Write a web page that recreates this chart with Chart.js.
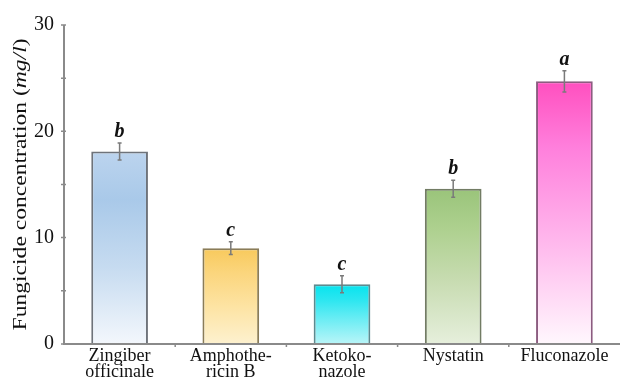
<!DOCTYPE html>
<html>
<head>
<meta charset="utf-8">
<script src="https://cdn.jsdelivr.net/npm/chart.js@4/dist/chart.umd.min.js"></script>
<style>
  html, body { margin: 0; padding: 0; background: #fff; }
  #wrap { width: 625px; height: 385px; position: relative; }
</style>
</head>
<body>
<div id="wrap"><canvas id="c" width="625" height="385"></canvas></div>
<script>
// Fungicide concentration per treatment, with standard errors and significance letters
const categories = [
  ['Zingiber', 'officinale'],
  ['Amphothe-', 'ricin B'],
  ['Ketoko-', 'nazole'],
  ['Nystatin'],
  ['Fluconazole']
];
const concentration = [18.1, 9.0, 5.6, 14.6, 24.7];
const errors = [0.8, 0.6, 0.8, 0.8, 1.0];
const groupLetters = ['b', 'c', 'c', 'b', 'a'];
const yTicks = [0, 10, 20, 30];

// Vertical colour ramps for each bar, listed from base to top
const ramps = [
  ['#f3f7fc', '#c6dbf0', '#a9c9e9', '#bcd4ee'],
  ['#fdf1cf', '#fde3a2', '#fbd57c', '#f8c95c'],
  ['#b9f5f8', '#6eedf4', '#2ae6f0', '#05e3ee'],
  ['#e6efdc', '#c8dcb2', '#add08e', '#9ac47a'],
  ['#fff7fd', '#ffb6ec', '#ff7fdc', '#ff4fbf']
];
const borders = ['#6e737a', '#8a7c58', '#5d8a8f', '#727c64', '#8c5c80'];

const SERIF = '"Liberation Serif", serif';

function barGradient(ctx) {
  const chart = ctx.chart;
  const area = chart.chartArea;
  if (!area) return ramps[ctx.dataIndex][1];
  const y = chart.scales.y;
  const top = y.getPixelForValue(concentration[ctx.dataIndex]);
  const base = y.getPixelForValue(0);
  const g = chart.ctx.createLinearGradient(0, base, 0, top);
  const r = ramps[ctx.dataIndex];
  g.addColorStop(0, r[0]);
  g.addColorStop(0.4, r[1]);
  g.addColorStop(0.75, r[2]);
  g.addColorStop(1, r[3]);
  return g;
}

// Error bars and letters drawn on top of the bars
const errorBars = {
  id: 'errorBars',
  afterDatasetsDraw(chart) {
    const { ctx, scales: { x, y } } = chart;
    ctx.save();
    concentration.forEach((v, i) => {
      const cx = x.getPixelForValue(i);
      const hi = y.getPixelForValue(v + errors[i]);
      const lo = y.getPixelForValue(v - errors[i]);
      ctx.strokeStyle = '#7a7a7a';
      ctx.lineWidth = 1.5;
      ctx.beginPath();
      ctx.moveTo(cx, hi); ctx.lineTo(cx, lo);
      ctx.moveTo(cx - 2, hi); ctx.lineTo(cx + 2, hi);
      ctx.moveTo(cx - 2, lo); ctx.lineTo(cx + 2, lo);
      ctx.stroke();
      ctx.fillStyle = '#111';
      ctx.font = 'italic bold 20px ' + SERIF;
      ctx.textAlign = 'center';
      ctx.textBaseline = 'alphabetic';
      ctx.fillText(groupLetters[i], cx, hi - 6);
    });
    ctx.restore();
  }
};

// Axis lines, minor ticks and y-axis title with italic unit
const axisDecor = {
  id: 'axisDecor',
  afterDraw(chart) {
    const { ctx, chartArea: a, scales: { x, y } } = chart;
    ctx.save();
    ctx.strokeStyle = '#8a8a8a';
    ctx.lineWidth = 2;
    ctx.beginPath();
    ctx.moveTo(a.left, a.top); ctx.lineTo(a.left, a.bottom);
    ctx.lineTo(a.right, a.bottom);
    ctx.stroke();
    ctx.lineWidth = 1.5;
    ctx.beginPath();
    for (let v = 0; v <= 30; v += 5) {
      const py = y.getPixelForValue(v);
      ctx.moveTo(a.left - 3, py); ctx.lineTo(a.left + 2, py);
    }
    for (let i = 1; i < categories.length; i++) {
      const px = (x.getPixelForValue(i - 1) + x.getPixelForValue(i)) / 2;
      ctx.moveTo(px, a.bottom - 1); ctx.lineTo(px, a.bottom + 3);
    }
    ctx.stroke();

    // rotated title, stretched along the axis
    ctx.translate(21, (a.top + a.bottom) / 2);
    ctx.rotate(-Math.PI / 2);
    ctx.fillStyle = '#111';
    ctx.textBaseline = 'middle';
    const parts = [
      ['Fungicide concentration (', 'normal'],
      ['mg/l', 'italic'],
      [')', 'normal']
    ];
    let total = 0;
    parts.forEach(p => { ctx.font = p[1] + ' 19px ' + SERIF; total += ctx.measureText(p[0]).width; });
    const sx = 292 / total;
    ctx.scale(sx, 1);
    let px = -total / 2;
    ctx.textAlign = 'left';
    parts.forEach(p => {
      ctx.font = p[1] + ' 19px ' + SERIF;
      ctx.fillText(p[0], px, 0);
      px += ctx.measureText(p[0]).width;
    });
    ctx.restore();
  }
};

new Chart(document.getElementById('c'), {
  type: 'bar',
  data: {
    labels: categories,
    datasets: [{
      data: concentration,
      backgroundColor: barGradient,
      borderColor: borders,
      borderWidth: 2,
      borderSkipped: 'bottom',
      categoryPercentage: 1,
      barPercentage: 0.51
    }]
  },
  options: {
    responsive: false,
    animation: false,
    devicePixelRatio: 1,
    layout: { padding: { top: 25, right: 5, left: 0, bottom: 0 } },
    plugins: { legend: { display: false }, tooltip: { enabled: false } },
    scales: {
      x: {
        grid: { display: false, drawTicks: false },
        border: { display: false },
        ticks: {
          color: '#111',
          font: { family: SERIF, size: 18, lineHeight: 0.92 },
          padding: 4,
          maxRotation: 0,
          autoSkip: false
        }
      },
      y: {
        min: 0, max: 30,
        afterBuildTicks(axis) { axis.ticks = yTicks.map(v => ({ value: v })); },
        afterFit(axis) { axis.width = 64; },
        grid: { display: false, drawTicks: false },
        border: { display: false },
        ticks: {
          color: '#111',
          font: { family: SERIF, size: 20 },
          padding: 10
        }
      }
    }
  },
  plugins: [errorBars, axisDecor]
});
</script>
</body>
</html>
